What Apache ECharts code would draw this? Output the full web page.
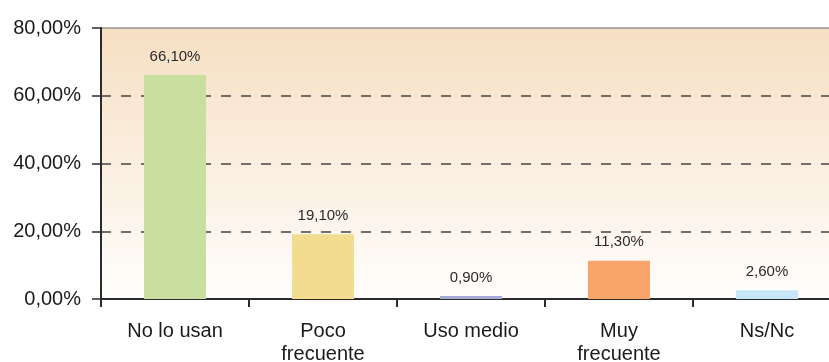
<!DOCTYPE html>
<html><head><meta charset="utf-8">
<script src="https://cdn.jsdelivr.net/npm/echarts@6/dist/echarts.min.js"></script>
<style>html,body{margin:0;padding:0;background:#fff;overflow:hidden}#c{width:841px;height:362px}</style>
</head><body><div id="c"></div>
<script>
var categories = ['No lo usan', 'Poco\nfrecuente', 'Uso medio', 'Muy\nfrecuente', 'Ns/Nc'];
var values = [66.1, 19.1, 0.9, 11.3, 2.6];
var barColors = ['#c9df9f', '#f1dc90', '#a4a9d5', '#f8a46a', '#c5e7f7'];
var yTicks = [0, 20, 40, 60, 80];

function fmt(v) { return v.toFixed(2).replace('.', ',') + '%'; }

var chart = echarts.init(document.getElementById('c'));
chart.setOption({
  animation: false,
  grid: {
    left: 101, top: 28, right: 0, height: 271,
    outerBoundsMode: 'none', containLabel: false,
    show: true, borderColor: '#666', borderWidth: 1.2,
    backgroundColor: new echarts.graphic.LinearGradient(0, 0, 0, 1, [
      { offset: 0, color: '#f6dfc3' },
      { offset: 1, color: '#fffefc' }
    ])
  },
  xAxis: {
    type: 'category', data: categories,
    axisLine: { lineStyle: { color: '#2b2b2b', width: 2 } },
    axisTick: { show: true, length: 8, lineStyle: { color: '#2b2b2b', width: 2 } },
    axisLabel: { color: '#1a1a1a', fontSize: 20, fontFamily: 'Liberation Sans, Arial', margin: 21, lineHeight: 23 }
  },
  yAxis: {
    type: 'value', min: yTicks[0], max: yTicks[yTicks.length - 1], interval: 20,
    axisLine: { show: true, lineStyle: { color: '#2b2b2b', width: 2 } },
    axisTick: { show: true, length: 9, lineStyle: { color: '#2b2b2b', width: 1.5 } },
    axisLabel: { color: '#1a1a1a', fontSize: 20, fontFamily: 'Liberation Sans, Arial', margin: 20, formatter: fmt },
    splitLine: { show: true, showMinLine: false, showMaxLine: false, lineStyle: { color: '#444', width: 1.5, type: [10, 10] } }
  },
  series: [{
    type: 'bar', data: values.map(function (v, i) { return { value: v, itemStyle: { color: barColors[i] } }; }),
    barWidth: 62,
    label: { show: true, position: 'top', distance: 11, color: '#2a2a2a', fontSize: 15, fontFamily: 'Liberation Sans, Arial', formatter: function (p) { return fmt(p.value); } }
  }]
});
</script></body></html>
